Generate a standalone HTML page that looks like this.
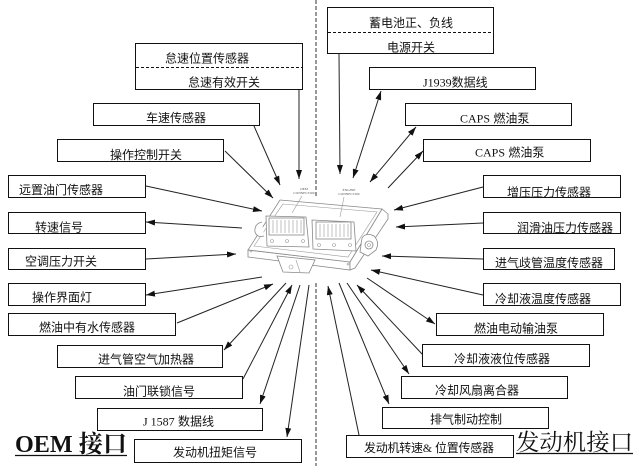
<!DOCTYPE html>
<html>
<head>
<meta charset="utf-8">
<style>
html,body{margin:0;padding:0;background:#fff;}
svg{display:block;}
.t{font-family:"Liberation Sans","Noto Sans CJK SC",sans-serif;font-size:12px;fill:#111;}
.s{font-family:"Liberation Serif","Noto Serif CJK SC",serif;}
.b{fill:#fff;stroke:#111;stroke-width:1;}
.l{stroke:#222;stroke-width:1;fill:none;}
.e{stroke:#888;stroke-width:0.8;fill:#fff;}
.e2{stroke:#999;stroke-width:0.6;fill:none;}
</style>
</head>
<body>
<svg width="637" height="466" viewBox="0 0 637 466" xmlns="http://www.w3.org/2000/svg">
<defs>
<marker id="a" viewBox="0 0 9 6" refX="9" refY="3" markerWidth="9" markerHeight="6" markerUnits="userSpaceOnUse" orient="auto-start-reverse">
<path d="M0,0 L9,3 L0,6 z" fill="#111"/>
</marker>
</defs>

<!-- center dashed line -->
<line x1="316" y1="0" x2="316" y2="196" stroke="#333" stroke-width="1" stroke-dasharray="4,2"/>
<line x1="316" y1="283" x2="316" y2="466" stroke="#333" stroke-width="1" stroke-dasharray="4,2"/>

<!-- ECU drawing -->
<g>
<path class="e" d="M248,250 L350,262 L350,270 L248,257 Z"/>
<path class="e" d="M382,209 L388,214 L388,219 L355,268 L350,270 L350,262 Z"/>
<path class="e" d="M280,200 L382,209 L350,262 L248,250 Z"/>
<path class="e2" d="M283,204 L377,212 L348,257 L254,246 Z"/>
<!-- left tab -->
<path class="e" d="M262,222 Q254,224 255,232 Q257,238 264,236"/>
<!-- right tab -->
<path class="e" d="M362,238 Q366,232 374,236 Q380,242 376,250 L368,256 L360,252 Z"/>
<circle cx="369" cy="245" r="4" class="e"/>
<circle cx="369" cy="245" r="1.5" class="e2"/>
<!-- bottom tab -->
<path class="e" d="M277,256 L315,260 L309,273 L283,272 Z"/>
<circle cx="291" cy="267" r="2" class="e2"/>
<line class="e2" x1="296" y1="260" x2="300" y2="272"/>
<!-- OEM connector -->
<path class="e" d="M266,216 L306,217 L309,247 L267,246 Z"/>
<rect class="e" x="269" y="218" width="35" height="17"/>
<g class="e2">
<line x1="273" y1="220" x2="273" y2="233"/><line x1="277" y1="220" x2="277" y2="233"/>
<line x1="281" y1="220" x2="281" y2="233"/><line x1="285" y1="220" x2="285" y2="233"/>
<line x1="289" y1="220" x2="289" y2="233"/><line x1="293" y1="220" x2="293" y2="233"/>
<line x1="297" y1="220" x2="297" y2="233"/><line x1="301" y1="220" x2="301" y2="233"/>
<circle cx="272" cy="241" r="1.5"/><circle cx="287" cy="241" r="1.5"/><circle cx="303" cy="241" r="1.5"/>
</g>
<!-- ENGINE connector -->
<path class="e" d="M312,220 L354,222 L356,251 L313,249 Z"/>
<rect class="e" x="316" y="222" width="35" height="17"/>
<g class="e2">
<line x1="320" y1="224" x2="320" y2="237"/><line x1="324" y1="224" x2="324" y2="237"/>
<line x1="328" y1="224" x2="328" y2="237"/><line x1="332" y1="224" x2="332" y2="237"/>
<line x1="336" y1="224" x2="336" y2="237"/><line x1="340" y1="224" x2="340" y2="237"/>
<line x1="344" y1="224" x2="344" y2="237"/><line x1="348" y1="224" x2="348" y2="237"/>
<circle cx="319" cy="245" r="1.5"/><circle cx="334" cy="245" r="1.5"/><circle cx="350" cy="245" r="1.5"/>
</g>
<circle cx="251" cy="251" r="1" class="e2"/>
<circle cx="348" cy="264" r="1" class="e2"/>
<!-- connector labels -->
<text x="304" y="190" font-family="Liberation Serif,serif" font-size="3.5" fill="#555" text-anchor="middle">OEM</text>
<text x="304" y="194" font-family="Liberation Serif,serif" font-size="3.5" fill="#555" text-anchor="middle">CONNECTOR</text>
<text x="349" y="191" font-family="Liberation Serif,serif" font-size="3.5" fill="#555" text-anchor="middle">ENGINE</text>
<text x="349" y="195" font-family="Liberation Serif,serif" font-size="3.5" fill="#555" text-anchor="middle">CONNECTOR</text>
<line class="e2" x1="302" y1="196" x2="292" y2="213"/>
<line class="e2" x1="344" y1="197" x2="340" y2="217"/>
</g>

<!-- connector lines -->
<g class="l" marker-end="url(#a)">
<line x1="299" y1="90" x2="299" y2="179"/>
<line x1="254" y1="126" x2="280" y2="185"/>
<line x1="225" y1="151" x2="273" y2="198"/>
<line x1="146" y1="186" x2="262" y2="211"/>
<line x1="242" y1="228" x2="146" y2="222"/>
<line x1="146" y1="259" x2="236" y2="254"/>
<line x1="262" y1="277" x2="146" y2="295"/>
<line x1="177" y1="323" x2="273" y2="284"/>
<line x1="286" y1="283" x2="224" y2="350"/>
<line x1="243" y1="379" x2="292" y2="285"/>
<line x1="300" y1="285" x2="260" y2="404"/>
<line x1="309" y1="285" x2="287" y2="437"/>

<line x1="339" y1="54" x2="340" y2="174"/>
<line x1="388" y1="188" x2="423" y2="151"/>
<line x1="483" y1="187" x2="394" y2="210"/>
<line x1="483" y1="223" x2="396" y2="227"/>
<line x1="483" y1="259" x2="382" y2="256"/>
<line x1="483" y1="295" x2="371" y2="270"/>
<line x1="367" y1="278" x2="435" y2="324"/>
<line x1="423" y1="355" x2="357" y2="285"/>
<line x1="347" y1="283" x2="409" y2="374"/>
<line x1="339" y1="283" x2="389" y2="404"/>
<line x1="359" y1="435" x2="328" y2="286"/>
</g>
<g class="l" marker-start="url(#a)" marker-end="url(#a)">
<line x1="353" y1="178" x2="381" y2="91"/>
<line x1="370" y1="182" x2="416" y2="127"/>
</g>

<!-- left boxes -->
<rect class="b" x="135.5" y="43.5" width="167" height="46"/>
<line x1="136" y1="67.5" x2="302" y2="67.5" stroke="#111" stroke-width="1" stroke-dasharray="3,2"/>
<text class="t" x="165" y="62.5">怠速位置传感器</text>
<text class="t" x="188" y="86.5">怠速有效开关</text>

<rect class="b" x="93.5" y="103.5" width="166" height="22"/>
<text class="t" x="146" y="122">车速传感器</text>

<rect class="b" x="57.5" y="139.5" width="166" height="22"/>
<text class="t" x="110" y="159">操作控制开关</text>

<rect class="b" x="8.5" y="175.5" width="137" height="22"/>
<text class="t" x="19" y="194">远置油门传感器</text>

<rect class="b" x="8.5" y="212.5" width="137" height="21"/>
<text class="t" x="35" y="231.5">转速信号</text>

<rect class="b" x="8.5" y="248.5" width="137" height="21"/>
<text class="t" x="25" y="265.5">空调压力开关</text>

<rect class="b" x="8.5" y="283.5" width="137" height="22"/>
<text class="t" x="32" y="301.5">操作界面灯</text>

<rect class="b" x="8.5" y="313.5" width="167" height="22"/>
<text class="t" x="39" y="331.5">燃油中有水传感器</text>

<rect class="b" x="57.5" y="345.5" width="165" height="22"/>
<text class="t" x="98" y="363.5">进气管空气加热器</text>

<rect class="b" x="75.5" y="376.5" width="167" height="22"/>
<text class="t" x="123" y="395.5">油门联锁信号</text>

<rect class="b" x="97.5" y="408.5" width="165" height="22"/>
<text class="t" x="143" y="425.5"><tspan class="s">J 1587</tspan> 数据线</text>

<rect class="b" x="134.5" y="439.5" width="167" height="23"/>
<text class="t" x="173" y="456.5">发动机扭矩信号</text>

<!-- right boxes -->
<rect class="b" x="327.5" y="7.5" width="166" height="46"/>
<line x1="328" y1="32.5" x2="493" y2="32.5" stroke="#111" stroke-width="1" stroke-dasharray="3,2"/>
<text class="t" x="369" y="27">蓄电池正、负线</text>
<text class="t" x="387" y="51.5">电源开关</text>

<rect class="b" x="369.5" y="67.5" width="166" height="22"/>
<text class="t" x="423" y="86.5"><tspan class="s">J1939</tspan>数据线</text>

<rect class="b" x="405.5" y="103.5" width="166" height="22"/>
<text class="t" x="460" y="122.5"><tspan class="s">CAPS</tspan> 燃油泵</text>

<rect class="b" x="423.5" y="139.5" width="167" height="22"/>
<text class="t" x="475" y="156.5"><tspan class="s">CAPS</tspan> 燃油泵</text>

<rect class="b" x="483.5" y="175.5" width="137" height="22"/>
<text class="t" x="507" y="196.5">增压压力传感器</text>

<rect class="b" x="483.5" y="212.5" width="137" height="21"/>
<text class="t" x="517" y="232">润滑油压力传感器</text>

<rect class="b" x="483.5" y="248.5" width="131" height="21"/>
<text class="t" x="495" y="267">进气歧管温度传感器</text>

<rect class="b" x="483.5" y="283.5" width="137" height="22"/>
<text class="t" x="495" y="303">冷却液温度传感器</text>

<rect class="b" x="436.5" y="313.5" width="167" height="22"/>
<text class="t" x="474" y="332.5">燃油电动输油泵</text>

<rect class="b" x="422.5" y="344.5" width="167" height="22"/>
<text class="t" x="454" y="363">冷却液液位传感器</text>

<rect class="b" x="401.5" y="376.5" width="166" height="22"/>
<text class="t" x="435" y="394.5">冷却风扇离合器</text>

<rect class="b" x="382.5" y="407.5" width="166" height="21"/>
<text class="t" x="430" y="423.5">排气制动控制</text>

<rect class="b" x="346.5" y="435.5" width="167" height="22"/>
<text class="t" x="364" y="452" textLength="130" lengthAdjust="spacing">发动机转速<tspan class="s">&amp;</tspan> 位置传感器</text>

<!-- titles -->
<text x="15" y="452" font-family="Liberation Serif,'Noto Serif CJK SC',serif" font-size="24" font-weight="bold" fill="#111" textLength="112" lengthAdjust="spacingAndGlyphs">OEM 接口</text>
<line x1="15" y1="455.5" x2="127" y2="455.5" stroke="#111" stroke-width="1.2"/>
<text x="516" y="450" font-family="Liberation Serif,'Noto Serif CJK SC',serif" font-size="23" fill="#111" textLength="117" lengthAdjust="spacingAndGlyphs">发动机接口</text>
<line x1="516" y1="453.5" x2="633" y2="453.5" stroke="#111" stroke-width="1.2"/>
</svg>
</body>
</html>
